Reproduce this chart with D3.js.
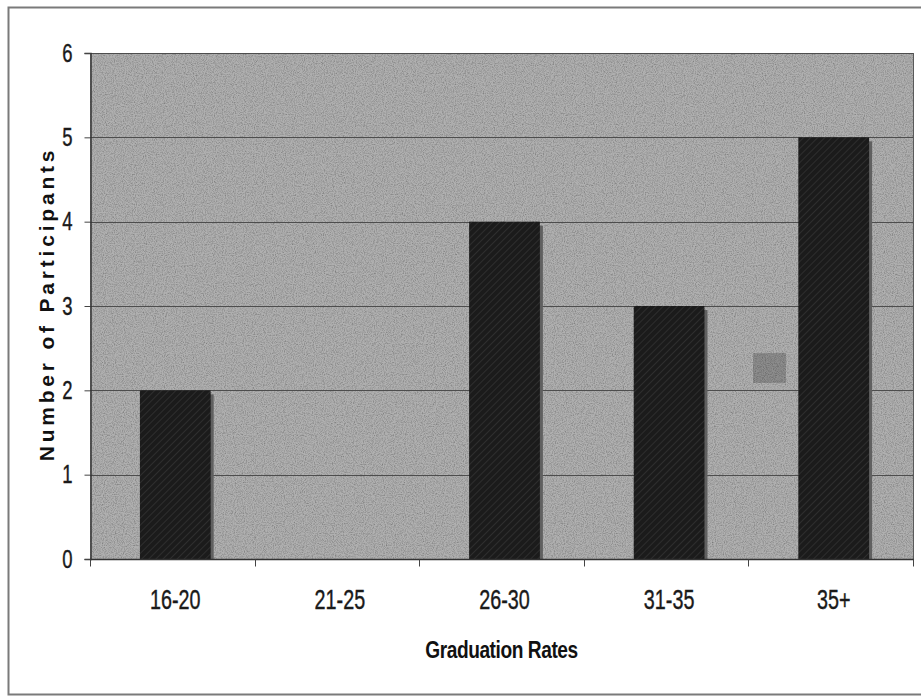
<!DOCTYPE html>
<html>
<head>
<meta charset="utf-8">
<script src="https://cdn.jsdelivr.net/npm/d3@7"></script>
<style>
  html, body { margin: 0; padding: 0; background: #fff; }
  svg { display: block; }
</style>
</head>
<body>
<svg id="chart" width="921" height="696"></svg>
<script>
// Participants per graduation-rate bracket
const categories = ["16-20", "21-25", "26-30", "31-35", "35+"];
const participants = [2, 0, 4, 3, 5];
const yTicks = [0, 1, 2, 3, 4, 5, 6];
const xTitle = "Graduation Rates";
const yTitle = "Number of Participants";

const svg = d3.select("#chart");
const W = 921, H = 696;
const plot = { left: 90, right: 913, top: 53, bottom: 559 };

const sans = "'Liberation Sans', Arial, sans-serif";

const defs = svg.append("defs");

// grainy grey plot background
const grain = defs.append("filter").attr("id", "grain")
  .attr("x", 0).attr("y", 0).attr("width", "100%").attr("height", "100%");
grain.append("feTurbulence").attr("type", "fractalNoise")
  .attr("baseFrequency", 0.9).attr("numOctaves", 2).attr("seed", 4).attr("result", "noise");
grain.append("feColorMatrix").attr("in", "noise").attr("type", "matrix")
  .attr("values", "0 0 0 0 0  0 0 0 0 0  0 0 0 0 0  0 0 0 -1.0 0.62").attr("result", "dots");
grain.append("feComposite").attr("in", "dots").attr("in2", "SourceGraphic")
  .attr("operator", "in").attr("result", "dotsClip");
grain.append("feMerge").call(m => {
  m.append("feMergeNode").attr("in", "SourceGraphic");
  m.append("feMergeNode").attr("in", "dotsClip");
});

// diagonal hatching on the bars
const hatch = defs.append("pattern").attr("id", "hatch")
  .attr("patternUnits", "userSpaceOnUse").attr("width", 5).attr("height", 5)
  .attr("patternTransform", "rotate(45)");
hatch.append("rect").attr("width", 5).attr("height", 5).attr("fill", "#1b1b1b");
hatch.append("line").attr("x1", 0).attr("y1", 0).attr("x2", 0).attr("y2", 5)
  .attr("stroke", "#3a3a3a").attr("stroke-width", 1.2);

// outer frame
svg.append("path")
  .attr("d", `M${W},7.5 H8.5 V694.5 H${W}`)
  .attr("fill", "none").attr("stroke", "#7a7a7a").attr("stroke-width", 2);

const x = d3.scaleBand().domain(categories).range([plot.left, plot.right]).padding(0);
const y = d3.scaleLinear().domain([0, 6]).range([plot.bottom, plot.top]);

// plot area
svg.append("rect")
  .attr("x", plot.left).attr("y", plot.top)
  .attr("width", plot.right - plot.left).attr("height", plot.bottom - plot.top)
  .attr("fill", "#b0b0b0").attr("filter", "url(#grain)");

// horizontal gridlines
svg.append("g").selectAll("line").data(yTicks.filter(d => d > 0)).join("line")
  .attr("x1", plot.left).attr("x2", plot.right)
  .attr("y1", d => Math.round(y(d)) + 0.5).attr("y2", d => Math.round(y(d)) + 0.5)
  .attr("stroke", "#4d4d4d").attr("stroke-width", 1);

// right edge of the plot area
svg.append("line")
  .attr("x1", plot.right + 0.5).attr("x2", plot.right + 0.5)
  .attr("y1", plot.top).attr("y2", plot.bottom)
  .attr("stroke", "#5a5a5a");

// bars with a soft drop shadow
const bw = x.bandwidth() * 0.43;
const shift = 3;
const barData = participants.map((v, i) => ({ c: categories[i], v })).filter(d => d.v > 0);
const bars = svg.append("g");
bars.selectAll("rect.shadow").data(barData)
  .join("rect").attr("class", "shadow")
  .attr("x", d => x(d.c) + (x.bandwidth() - bw) / 2 + shift + 3)
  .attr("y", d => y(d.v) + 4)
  .attr("width", bw).attr("height", d => y(0) - y(d.v) - 4)
  .attr("fill", "#606060");
bars.selectAll("rect.bar").data(barData)
  .join("rect").attr("class", "bar")
  .attr("x", d => x(d.c) + (x.bandwidth() - bw) / 2 + shift)
  .attr("y", d => y(d.v))
  .attr("width", bw).attr("height", d => y(0) - y(d.v))
  .attr("fill", "url(#hatch)");

// small grey key square inside the plot
svg.append("rect")
  .attr("x", 753).attr("y", 353).attr("width", 33).attr("height", 30)
  .attr("fill", "#8d8d8d").attr("filter", "url(#grain)");

// y axis
const yAxis = svg.append("g")
  .attr("transform", `translate(${plot.left + 0.5},0)`)
  .call(d3.axisLeft(y).tickValues(yTicks).tickSize(6).tickPadding(0).tickFormat(d3.format("d")));
yAxis.select(".domain").attr("stroke", "#333").attr("stroke-width", 1.5);
yAxis.selectAll(".tick line").attr("stroke", "#444");
yAxis.selectAll(".tick text")
  .attr("x", null).attr("dy", null)
  .attr("transform", "translate(-18,8) scale(0.84,1.14)")
  .attr("font-family", sans).attr("font-size", 22).attr("fill", "#1a1a1a")
  .attr("stroke", "#1a1a1a").attr("stroke-width", 0.35);

// x axis with ticks at the category boundaries
const xAxisG = svg.append("g").attr("transform", `translate(0,${plot.bottom + 0.5})`);
xAxisG.append("line")
  .attr("x1", plot.left).attr("x2", plot.right + 1)
  .attr("stroke", "#333").attr("stroke-width", 1.5);
const edges = categories.map(c => x(c)).concat([plot.right]);
xAxisG.selectAll("line.tick").data(edges).join("line").attr("class", "tick")
  .attr("x1", d => Math.round(d) + 0.5).attr("x2", d => Math.round(d) + 0.5)
  .attr("y1", 0).attr("y2", 7).attr("stroke", "#444");
xAxisG.selectAll("text").data(categories).join("text")
  .attr("transform", d => `translate(${x(d) + x.bandwidth() / 2 + 3},${608 - plot.bottom}) scale(0.86,1.22)`)
  .attr("text-anchor", "middle")
  .attr("font-family", sans).attr("font-size", 23).attr("fill", "#1a1a1a")
  .attr("stroke", "#1a1a1a").attr("stroke-width", 0.35)
  .text(d => d);

// axis titles
svg.append("text")
  .attr("transform", `translate(${(plot.left + plot.right) / 2},658) scale(0.87,1.12)`)
  .attr("text-anchor", "middle")
  .attr("font-family", sans).attr("font-weight", "bold").attr("font-size", 22)
  .attr("letter-spacing", -0.5)
  .attr("fill", "#111")
  .text(xTitle);

svg.append("text")
  .attr("transform", `translate(54,${(plot.top + plot.bottom) / 2 - 2}) rotate(-90)`)
  .attr("text-anchor", "middle")
  .attr("font-family", sans).attr("font-weight", "bold").attr("font-size", 21)
  .attr("letter-spacing", 3.8)
  .attr("fill", "#111")
  .text(yTitle);
</script>
</body>
</html>
